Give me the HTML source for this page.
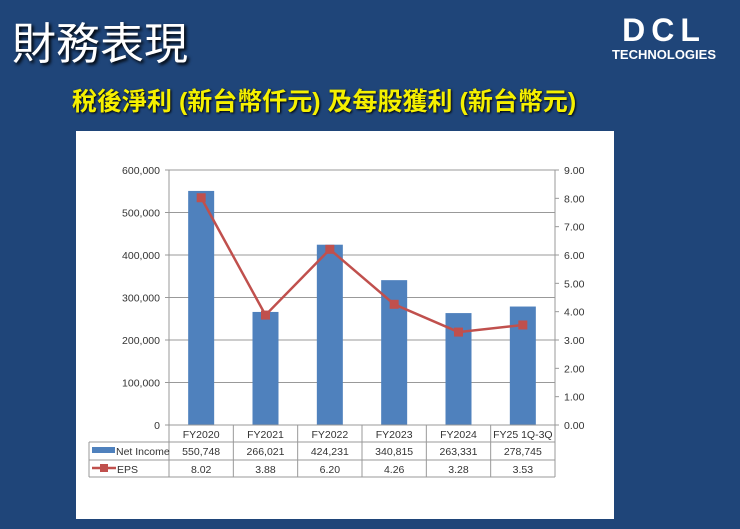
<!DOCTYPE html>
<html><head><meta charset="utf-8">
<style>
body{margin:0;width:740px;height:529px;background:#1f4579;overflow:hidden;font-family:"Liberation Sans","Noto Sans CJK TC",sans-serif;position:relative}
#title{position:absolute;left:12px;top:8px;color:#fff;font-size:44px;font-family:"Noto Sans CJK TC",sans-serif;text-shadow:2px 2px 3px #000}
#sub{position:absolute;left:72px;top:82px;color:#f5f000;font-size:25px;font-weight:bold;font-family:"Liberation Sans","Noto Sans CJK TC",sans-serif;text-shadow:1px 1px 2px #000}
#logo{position:absolute;left:598px;top:14px;width:132px;color:#fff;text-align:center}
#panel{position:absolute;left:76px;top:131px;width:538px;height:388px;background:#fff}
svg text{font-family:"Liberation Sans",sans-serif;font-size:10.5px;fill:#333}
</style></head><body>
<div id="title">財務表現</div>
<div id="logo"><div style="font-size:32px;font-weight:900;letter-spacing:6px;line-height:32px">DCL</div><div style="font-size:13px;font-weight:bold;line-height:18px">TECHNOLOGIES</div></div>
<div id="sub">稅後淨利 (新台幣仟元) 及每股獲利 (新台幣元)</div>
<div id="panel"></div>
<svg id="chart" width="740" height="529" style="position:absolute;left:0;top:0"></svg>
<script>
const categories=["FY2020","FY2021","FY2022","FY2023","FY2024","FY25 1Q-3Q"];
const netIncome=[550748,266021,424231,340815,263331,278745];
const eps=[8.02,3.88,6.20,4.26,3.28,3.53];
const leftTicks=[0,100000,200000,300000,400000,500000,600000];
const rightTicks=[0,1,2,3,4,5,6,7,8,9];
const svg=document.getElementById('chart');
const NS='http://www.w3.org/2000/svg';
const x0=169,x1=555,yT=170,yB=425;
const cw=(x1-x0)/categories.length;
const yL=v=>yB-(v/600000)*(yB-yT);
const yR=v=>yB-(v/9)*(yB-yT);
const xc=i=>x0+cw*(i+0.5);
function mk(t,a,txt){const e=document.createElementNS(NS,t);for(const k in a)e.setAttribute(k,a[k]);if(txt!=null)e.textContent=txt;svg.appendChild(e);return e;}
leftTicks.forEach(v=>{
 const g=mk('line',{x1:x0-4,x2:x1,y1:yL(v),y2:yL(v),stroke:'#999','stroke-width':1});
 
 const t=mk('text',{x:x0-9,y:yL(v)+4,'text-anchor':'end'},v.toLocaleString('en-US'));
 
});
rightTicks.forEach(v=>{
 mk('line',{x1:x1,x2:x1+4,y1:yR(v),y2:yR(v),stroke:'#999'});
 const t=mk('text',{x:x1+9,y:yR(v)+4},v.toFixed(2));
 
});
mk('line',{x1:x0,x2:x0,y1:yT,y2:yB,stroke:'#999'});
mk('line',{x1:x1,x2:x1,y1:yT,y2:yB,stroke:'#999'});
netIncome.forEach((v,i)=>{
 const b=mk('rect',{x:xc(i)-13,y:yL(v),width:26,height:yB-yL(v),fill:'#4f81bd'});
 
 
});
const pl=mk('polyline',{points:eps.map((v,i)=>xc(i)+','+yR(v)).join(' '),fill:'none',stroke:'#c0504d','stroke-width':2.5});

eps.forEach((v,i)=>{
 const p=mk('rect',{x:xc(i)-4.5,y:yR(v)-4.5,width:9,height:9,fill:'#c0504d'});
 
});
const tb=[425,442,460,477],tl=89;
tb.forEach((y,k)=>mk('line',{x1:k==0?x0:tl,x2:x1,y1:y,y2:y,stroke:'#999'}));
mk('line',{x1:tl,x2:tl,y1:442,y2:477,stroke:'#999'});
for(let i=0;i<=categories.length;i++)mk('line',{x1:x0+cw*i,x2:x0+cw*i,y1:425,y2:477,stroke:'#999'});
categories.forEach((c,i)=>{
 const t=mk('text',{x:xc(i),y:438,'text-anchor':'middle'},c);
 
 const a=mk('text',{x:xc(i),y:455,'text-anchor':'middle'},netIncome[i].toLocaleString('en-US'));
 
 const b=mk('text',{x:xc(i),y:473,'text-anchor':'middle'},eps[i].toFixed(2));
 
});
mk('rect',{x:92,y:447,width:23,height:6,fill:'#4f81bd'});
const l1=mk('text',{x:116,y:455},'Net Income');
mk('line',{x1:92,x2:116,y1:468,y2:468,stroke:'#c0504d','stroke-width':2.5});
mk('rect',{x:100,y:464,width:8,height:8,fill:'#c0504d'});
const l2=mk('text',{x:117,y:473},'EPS');
</script>
</body></html>
